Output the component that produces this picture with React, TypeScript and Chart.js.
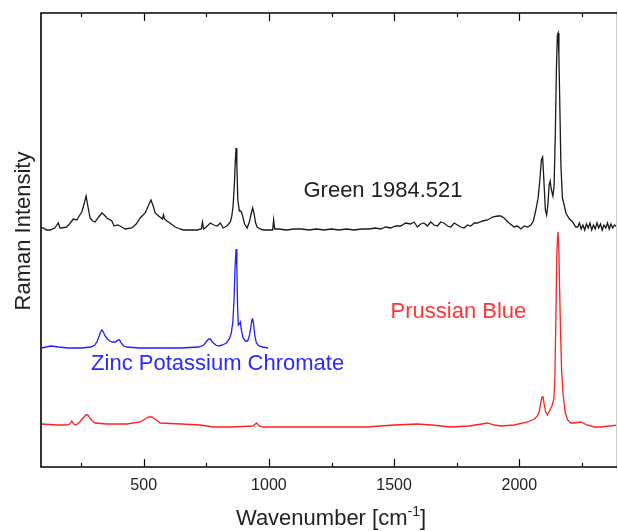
import React, { useEffect, useRef } from 'react';
import { Chart, registerables } from 'chart.js';

Chart.register(...registerables);

// ---- Data (wavenumber in cm^-1, intensity in arbitrary offset units) ----
const greenX = [93, 99, 112, 126, 145, 159, 166, 173, 193, 207, 219, 233, 245, 253, 262, 270, 277, 286, 296, 306, 320, 333, 343, 353, 373, 382, 395, 406, 426, 453, 470, 486, 506, 518, 529, 538, 546, 560, 575, 579, 583, 593, 610, 626, 645, 659, 690, 713, 730, 735, 739, 750, 766, 780, 793, 806, 817, 832, 846, 852, 857, 862, 866, 869, 872, 876, 882, 888, 893, 903, 913, 922, 929, 935, 941, 947, 953, 965, 979, 1000, 1015, 1019, 1023, 1040, 1070, 1100, 1130, 1160, 1190, 1220, 1250, 1280, 1310, 1340, 1370, 1400, 1425, 1446, 1466, 1486, 1506, 1526, 1546, 1566, 1580, 1593, 1606, 1619, 1633, 1646, 1660, 1673, 1686, 1699, 1713, 1726, 1740, 1753, 1766, 1779, 1793, 1806, 1820, 1833, 1853, 1873, 1893, 1913, 1926, 1939, 1959, 1979, 1993, 2006, 2020, 2033, 2046, 2056, 2066, 2075, 2082, 2088, 2093, 2098, 2104, 2109, 2114, 2119, 2123, 2128, 2134, 2139, 2144, 2148, 2152, 2155, 2158, 2162, 2166, 2172, 2179, 2186, 2200, 2213, 2225, 2233, 2240, 2247, 2254, 2261, 2268, 2275, 2282, 2289, 2296, 2303, 2310, 2317, 2324, 2331, 2338, 2345, 2352, 2359, 2366, 2373, 2380, 2390];
const greenY = [239, 239, 237, 237, 239, 244, 239, 239, 240, 244, 248, 247, 252, 255, 263, 271, 261, 249, 246, 245, 250, 254, 252, 249, 246, 241, 242, 241, 238, 239, 243, 249, 254, 261, 267, 261, 254, 251, 248, 252, 248, 246, 243, 240, 238, 237, 237, 237, 238, 245, 238, 240, 244, 242, 241, 244, 239, 241, 245, 251, 261, 282, 307, 319, 302, 267, 256, 256, 253, 243, 239, 245, 253, 259, 253, 244, 240, 238, 237, 237, 237, 247, 238, 238, 237, 238, 238, 237, 238, 237, 238, 237, 238, 237, 238, 238, 239, 238, 240, 239, 241, 241, 244, 243, 245, 240, 243, 244, 241, 245, 242, 241, 245, 244, 241, 240, 244, 242, 240, 239, 242, 241, 244, 244, 246, 247, 250, 251, 251, 249, 244, 240, 241, 238, 241, 240, 242, 246, 257, 269, 287, 307, 310, 287, 257, 252, 262, 282, 286, 277, 271, 282, 337, 397, 432, 434, 412, 357, 302, 269, 262, 254, 248, 245, 240, 240, 244, 238, 242, 237, 243, 239, 244, 237, 242, 238, 244, 239, 243, 237, 242, 239, 244, 238, 243, 239, 242, 240];

const zincX = [93, 110, 130, 160, 200, 250, 290, 305, 315, 322, 328, 333, 339, 346, 355, 365, 375, 388, 397, 404, 410, 420, 433, 480, 550, 650, 720, 740, 752, 760, 766, 775, 787, 800, 815, 830, 842, 850, 856, 861, 865, 869, 872, 875, 878, 882, 886, 890, 897, 906, 915, 922, 928, 932, 935, 939, 944, 950, 960, 975, 997];
const zincY = [119, 120, 121, 120, 119, 119, 120, 122, 126, 131, 135, 137, 135, 131, 128, 126, 125, 125, 127, 127, 124, 121, 120, 119, 119, 119, 120, 122, 126, 128, 128, 125, 122, 121, 122, 124, 128, 134, 145, 168, 200, 218, 200, 160, 142, 143, 145, 137, 129, 126, 126, 131, 140, 147, 148, 143, 131, 124, 121, 120, 119];

const prussianX = [93, 150, 193, 205, 213, 220, 230, 245, 258, 268, 277, 285, 295, 306, 350, 433, 486, 505, 520, 533, 545, 556, 566, 650, 726, 779, 850, 938, 950, 962, 978, 1050, 1126, 1206, 1300, 1393, 1500, 1593, 1650, 1726, 1800, 1850, 1873, 1900, 1926, 1980, 2033, 2060, 2072, 2080, 2086, 2091, 2095, 2099, 2105, 2112, 2120, 2130, 2138, 2142, 2146, 2150, 2154, 2157, 2160, 2164, 2169, 2175, 2183, 2193, 2205, 2219, 2246, 2270, 2300, 2326, 2360, 2393];
const prussianY = [43, 42, 42, 43, 46, 43, 42, 45, 49, 52, 52, 49, 46, 44, 43, 43, 45, 48, 50, 50, 48, 46, 44, 43, 42, 40, 40, 41, 44, 41, 40, 40, 40, 40, 40, 40, 42, 43, 42, 40, 41, 43, 44, 42, 41, 42, 45, 48, 51, 56, 65, 70, 70, 63, 55, 52, 56, 61, 68, 90, 150, 215, 235, 225, 190, 140, 95, 72, 55, 47, 44, 44, 45, 42, 40, 40, 41, 42];

const xMajorTicks = [500, 1000, 1500, 2000];
const xMinorTicks = [250, 750, 1250, 1750, 2250];
const X_MIN = 90;
const X_MAX = 2390;
const Y_MIN = 0;
const Y_MAX = 454;

const labelTexts = ['Green 1984.521', 'Zinc Potassium Chromate', 'Prussian Blue'];
const labelX = [1138, 290, 1486];
const labelY = [276, 103, 155];
const seriesColors = ['#1a1a1a', '#2020ff', '#ff2020'];
const labelColors = ['#222222', '#2a2aff', '#ff3535'];

const xTitle = 'Wavenumber [cm';
const xTitleSup = '-1';
const xTitleEnd = ']';
const yTitle = 'Raman Intensity';

const FONT = 'Arial, "Liberation Sans", Helvetica, sans-serif';

const toPoints = (xs: number[], ys: number[]) => xs.map((x, i) => ({ x, y: ys[i] }));

const framePlugin = {
  id: 'frameAndText',
  afterDraw(chart: any) {
    const { ctx, chartArea, scales } = chart;
    const { left, right, top, bottom } = chartArea;
    const xs = scales.x;
    const ys = scales.y;
    ctx.save();
    // right faint border
    ctx.strokeStyle = '#cfcfcf';
    ctx.lineWidth = 1;
    ctx.beginPath();
    ctx.moveTo(right - 0.5, top);
    ctx.lineTo(right - 0.5, bottom);
    ctx.stroke();
    // frame
    ctx.strokeStyle = '#000';
    ctx.lineWidth = 1.6;
    ctx.beginPath();
    ctx.moveTo(right, top);
    ctx.lineTo(left, top);
    ctx.lineTo(left, bottom);
    ctx.lineTo(right, bottom);
    ctx.stroke();
    // ticks (inward)
    ctx.lineWidth = 1.2;
    const drawTick = (v: number, len: number) => {
      const px = Math.round(xs.getPixelForValue(v)) + 0.5;
      ctx.beginPath();
      ctx.moveTo(px, bottom);
      ctx.lineTo(px, bottom - len);
      ctx.moveTo(px, top);
      ctx.lineTo(px, top + len);
      ctx.stroke();
    };
    xMajorTicks.forEach((v) => drawTick(v, 8));
    xMinorTicks.forEach((v) => drawTick(v, 4));

    // annotations
    ctx.font = `22px ${FONT}`;
    ctx.textAlign = 'left';
    ctx.textBaseline = 'middle';
    labelTexts.forEach((t, i) => {
      ctx.fillStyle = labelColors[i];
      ctx.fillText(t, xs.getPixelForValue(labelX[i]), ys.getPixelForValue(labelY[i]));
    });

    // x title with superscript
    ctx.fillStyle = '#222';
    ctx.textBaseline = 'alphabetic';
    ctx.font = `22px ${FONT}`;
    const w1 = ctx.measureText(xTitle).width;
    const w3 = ctx.measureText(xTitleEnd).width;
    ctx.font = `14px ${FONT}`;
    const w2 = ctx.measureText(xTitleSup).width;
    const total = w1 + w2 + w3;
    const cx = (left + right) / 2 + 2;
    let sx = cx - total / 2;
    const baseY = 525;
    ctx.font = `22px ${FONT}`;
    ctx.fillText(xTitle, sx, baseY);
    sx += w1;
    ctx.font = `14px ${FONT}`;
    ctx.fillText(xTitleSup, sx, baseY - 9);
    sx += w2;
    ctx.font = `22px ${FONT}`;
    ctx.fillText(xTitleEnd, sx, baseY);

    // y title
    ctx.translate(29.5, 231);
    ctx.rotate(-Math.PI / 2);
    ctx.textAlign = 'center';
    ctx.fillText(yTitle, 0, 0);
    ctx.restore();
  },
};

export default function App() {
  const canvasRef = useRef<HTMLCanvasElement | null>(null);

  useEffect(() => {
    if (!canvasRef.current) return;
    const mk = (label: string, xs: number[], ys: number[], color: string) => ({
      label,
      data: toPoints(xs, ys),
      borderColor: color,
      backgroundColor: color,
      borderWidth: 1.3,
      pointRadius: 0,
      tension: 0,
      fill: false,
    });
    const chart = new Chart(canvasRef.current, {
      type: 'line',
      data: {
        datasets: [
          mk(labelTexts[0], greenX, greenY, seriesColors[0]),
          mk(labelTexts[1], zincX, zincY, seriesColors[1]),
          mk(labelTexts[2], prussianX, prussianY, seriesColors[2]),
        ],
      },
      options: {
        animation: false,
        responsive: false,
        maintainAspectRatio: false,
        layout: { padding: { top: 13, right: 1, left: 0, bottom: 0 } },
        plugins: {
          legend: { display: false },
          tooltip: { enabled: false },
          title: { display: false },
        },
        scales: {
          x: {
            type: 'linear',
            min: X_MIN,
            max: X_MAX,
            grid: { display: false, drawTicks: false },
            border: { display: false },
            afterBuildTicks: (scale: any) => {
              scale.ticks = xMajorTicks.map((v) => ({ value: v }));
            },
            afterFit: (scale: any) => {
              scale.height = 64;
            },
            ticks: {
              padding: 9,
              maxRotation: 0,
              autoSkip: false,
              color: '#222',
              font: { family: FONT, size: 16 },
              callback: (v: any) => String(v),
            },
          },
          y: {
            type: 'linear',
            min: Y_MIN,
            max: Y_MAX,
            grid: { display: false, drawTicks: false },
            border: { display: false },
            ticks: { display: false },
            afterFit: (scale: any) => {
              scale.width = 41;
            },
          },
        },
      },
      plugins: [framePlugin],
    } as any);
    return () => chart.destroy();
  }, []);

  return (
    <div style={{ position: 'fixed', left: 0, top: 0, width: 618, height: 531, background: '#fff' }}>
      <canvas ref={canvasRef} width={618} height={531} style={{ display: 'block' }} />
    </div>
  );
}
